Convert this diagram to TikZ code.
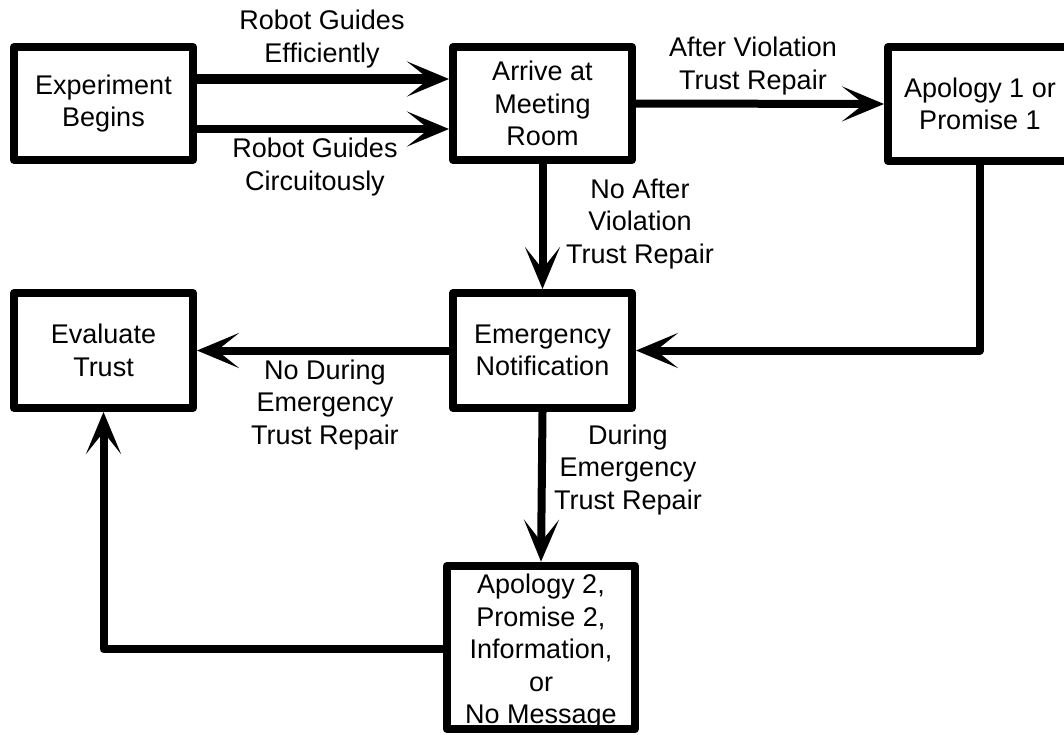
\documentclass[tikz,border=0pt]{standalone}
\usepackage{fontspec}
\setmainfont{Liberation Sans}
\usetikzlibrary{arrows.meta}
\begin{document}
\begin{tikzpicture}[x=1pt,y=-1pt,
  txt/.style={font=\fontsize{27}{32.5}\selectfont, align=center},
  stagebox/.style={txt, draw, line width=8pt, line join=round, inner sep=0pt},
  flow/.style={line width=8pt, line join=round,
    -{Stealth[length=42pt,width=35pt,inset=22pt]}},
  cond/.style={txt, inner sep=0pt}]
\useasboundingbox (0,0) rectangle (1064,734);
\clip (0,0) rectangle (1064,734);

% stages
\node[stagebox, minimum width=179pt, minimum height=113pt] (exp) at (103.5,103.5) {Experiment\\Begins};
\node[stagebox, minimum width=179pt, minimum height=113pt] (arr) at (542.5,103.5) {Arrive at\\Meeting\\Room};
\node[stagebox, minimum width=184pt, minimum height=114pt] (ap1) at (980,104) {Apology 1 or\\Promise 1};
\node[stagebox, minimum width=179pt, minimum height=115pt] (evl) at (103.5,350.5) {Evaluate\\Trust};
\node[stagebox, minimum width=179pt, minimum height=115pt] (emg) at (542.5,350.5) {Emergency\\Notification};
\node[stagebox, minimum width=188pt, minimum height=163pt] (ap2) at (541,647.5)
  {\rule{0pt}{28pt}Apology 2,\\Promise 2,\\Information,\\or\\No Message};

% transitions
\draw[flow, line width=10pt] ([yshift=24.5pt]exp.east) -- ([yshift=24.5pt]arr.west);
\draw[flow] ([yshift=-25.5pt]exp.east) -- ([yshift=-25.5pt]arr.west);
\draw[flow] (arr.east) -- (ap1.west);
\draw[flow] (arr.south) -- (emg.north);
\draw[flow] (ap1.south) |- (emg.east);
\draw[flow] (emg.west) -- (evl.east);
\draw[flow] (emg.south) -- (ap2.north);
\draw[flow] ([yshift=-1.5pt]ap2.west) -| (evl.south);

% transition labels
\node[cond] (effl) at (322,39) {Robot Guides\\Efficiently};
\node[cond] (circl) at (315,167) {Robot Guides\\Circuitously};
\node[cond] (afterl) at (753,66) {After Violation\\Trust Repair};
\node[cond] (noafterl) at (640,224) {No After\\Violation\\Trust Repair};
\node[cond] (nodurl) at (325,405) {No During\\Emergency\\Trust Repair};
\node[cond] (durl) at (628,470) {During\\Emergency\\Trust Repair};
\end{tikzpicture}
\end{document}
